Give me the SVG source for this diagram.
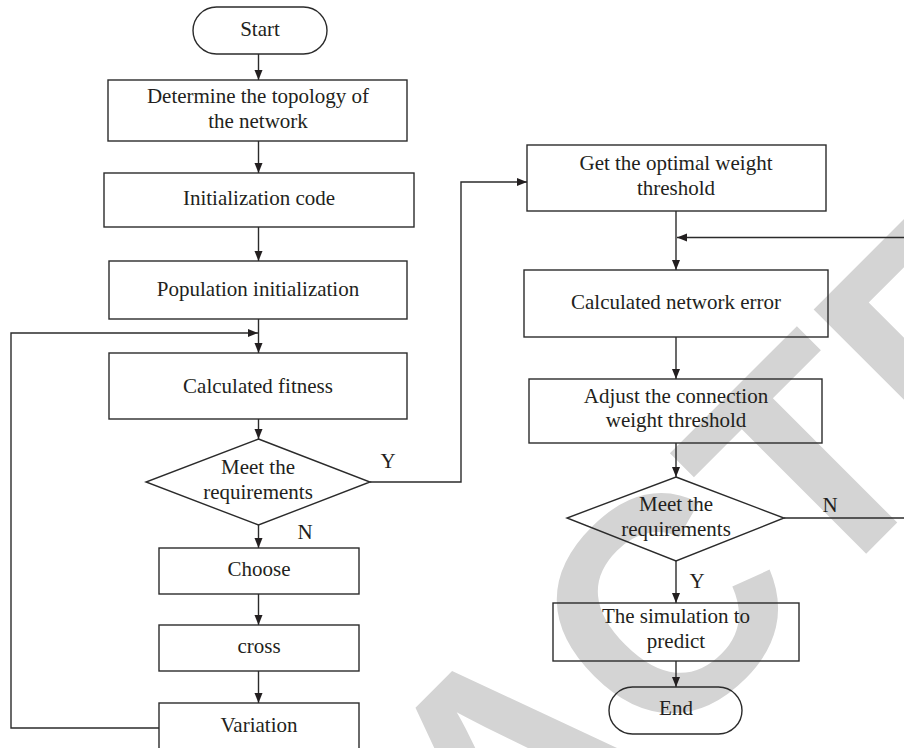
<svg xmlns="http://www.w3.org/2000/svg" width="904" height="748" viewBox="0 0 904 748">
<defs>
<style>
.wm{font-family:"Liberation Sans",Arial,sans-serif;font-weight:bold;font-size:305px;fill:#d4d4d4}
.n{fill:none;stroke:#2b2b2b;stroke-width:1.4}
.t{font-family:"Liberation Serif","Times New Roman",serif;font-size:21px;fill:#231f20;text-anchor:middle}
.c{fill:none;stroke:#2b2b2b;stroke-width:1.4}
</style>
<marker id="ah" viewBox="0 0 10 10" refX="10" refY="5" markerWidth="10" markerHeight="10" markerUnits="userSpaceOnUse" orient="auto">
<path d="M0,1 L10,5 L0,9 Z" fill="#231f20"/>
</marker>
</defs>
<rect width="904" height="748" fill="#ffffff"/>
<text class="wm" transform="rotate(-45)" x="-1121" y="1004">RETRACTED</text>

<g id="connectors">
<path class="c" d="M258.5,54 V80" marker-end="url(#ah)"/>
<path class="c" d="M258.5,141 V173" marker-end="url(#ah)"/>
<path class="c" d="M258.5,227 V261" marker-end="url(#ah)"/>
<path class="c" d="M258.5,319 V353" marker-end="url(#ah)"/>
<path class="c" d="M258.5,419 V439" marker-end="url(#ah)"/>
<path class="c" d="M258.5,525 V548" marker-end="url(#ah)"/>
<path class="c" d="M258.5,594 V625" marker-end="url(#ah)"/>
<path class="c" d="M258.5,671 V703" marker-end="url(#ah)"/>
<path class="c" d="M159,728 H11 V333 H258" marker-end="url(#ah)"/>
<path class="c" d="M370,482 H461 V182 H527" marker-end="url(#ah)"/>
<path class="c" d="M676,211 V270" marker-end="url(#ah)"/>
<path class="c" d="M676,337 V379" marker-end="url(#ah)"/>
<path class="c" d="M676,443 V477" marker-end="url(#ah)"/>
<path class="c" d="M676,561 V603" marker-end="url(#ah)"/>
<path class="c" d="M676,661 V687" marker-end="url(#ah)"/>
<path class="c" d="M784,518 H908 V237.5 H677" marker-end="url(#ah)"/>
<text class="t" x="388" y="468">Y</text>
<text class="t" x="305" y="539">N</text>
<text class="t" x="830" y="512">N</text>
<text class="t" x="697" y="588">Y</text>
</g>

<g id="start">
<rect class="n" x="193" y="7" width="134" height="47" rx="23.5"/>
<text class="t" x="260" y="36">Start</text>
</g>
<g id="topology">
<rect class="n" x="108" y="80" width="299" height="61"/>
<text class="t" x="258" y="103">Determine the topology of</text>
<text class="t" x="258" y="128">the network</text>
</g>
<g id="init-code">
<rect class="n" x="104" y="173" width="310" height="54"/>
<text class="t" x="259" y="205">Initialization code</text>
</g>
<g id="pop-init">
<rect class="n" x="109" y="261" width="298" height="58"/>
<text class="t" x="258" y="296">Population initialization</text>
</g>
<g id="fitness">
<rect class="n" x="109" y="353" width="298" height="66"/>
<text class="t" x="258" y="393">Calculated fitness</text>
</g>
<g id="decision1">
<polygon class="n" points="258.5,439 370,482 258.5,525 146,482"/>
<text class="t" x="258" y="474">Meet the</text>
<text class="t" x="258" y="499">requirements</text>
</g>
<g id="choose">
<rect class="n" x="159" y="548" width="200" height="46"/>
<text class="t" x="259" y="576">Choose</text>
</g>
<g id="cross">
<rect class="n" x="159" y="625" width="200" height="46"/>
<text class="t" x="259" y="653">cross</text>
</g>
<g id="variation">
<rect class="n" x="159" y="703" width="200" height="60"/>
<text class="t" x="259" y="732">Variation</text>
</g>

<g id="optimal">
<rect class="n" x="527" y="145" width="299" height="66"/>
<text class="t" x="676" y="170">Get the optimal weight</text>
<text class="t" x="676" y="195">threshold</text>
</g>
<g id="net-error">
<rect class="n" x="524" y="270" width="304" height="67"/>
<text class="t" x="676" y="309">Calculated network error</text>
</g>
<g id="adjust">
<rect class="n" x="529" y="379" width="293" height="64"/>
<text class="t" x="676" y="403">Adjust the connection</text>
<text class="t" x="676" y="427">weight threshold</text>
</g>
<g id="decision2">
<polygon class="n" points="676,477 784,518 676,561 567,518"/>
<text class="t" x="676" y="511">Meet the</text>
<text class="t" x="676" y="536">requirements</text>
</g>
<g id="simulate">
<rect class="n" x="553" y="603" width="246" height="58"/>
<text class="t" x="676" y="623">The simulation to</text>
<text class="t" x="676" y="648">predict</text>
</g>
<g id="end">
<rect class="n" x="609" y="687" width="133" height="47" rx="23.5"/>
<text class="t" x="676" y="715">End</text>
</g>
</svg>
